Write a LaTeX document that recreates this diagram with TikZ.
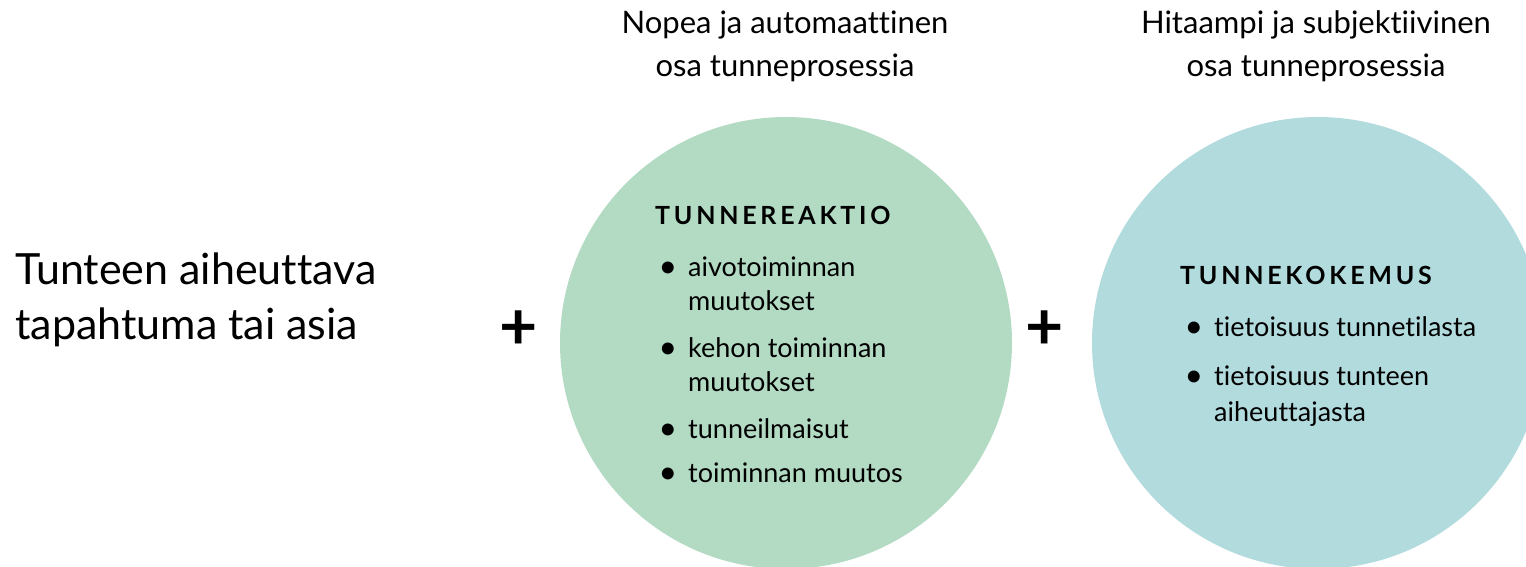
\documentclass[tikz,border=0pt]{standalone}
\usepackage{fontspec}
\setmainfont{Lato}[Ligatures=NoCommon]
\usetikzlibrary{positioning}
\definecolor{vihrea}{RGB}{179,219,196}
\definecolor{sininen}{RGB}{178,219,222}
\newcommand{\pallukka}{\llap{{\fontsize{32}{32}\selectfont\raisebox{-1.5pt}{\textbullet}}\hspace{11pt}}}

\begin{document}
\begin{tikzpicture}[x=1pt,y=-1pt,
    pallo/.style={circle,minimum size=452pt,inner sep=0pt},
    yla/.style={font=\fontsize{31}{43}\selectfont,align=center,inner sep=0pt},
    vasen/.style={font=\fontsize{43}{55}\selectfont,align=left,anchor=west,inner sep=0pt},
    plus/.style={font=\fontsize{66}{66}\selectfont\bfseries,inner sep=0pt},
    otsikko/.style={font=\fontsize{25}{28}\selectfont\bfseries\addfontfeature{LetterSpace=15},anchor=base west,inner sep=0pt},
    kohta/.style={font=\fontsize{27}{34}\selectfont,align=left,anchor=base west,inner sep=0pt}]
                \useasboundingbox (0,0) rectangle (1526,567);
                \clip (0,0) rectangle (1526,567);
                \node[pallo,fill=vihrea] (R) at (786,343) {};
                \node[pallo,fill=sininen] (K) at (1318,343) {};
                \node[yla] (N) at (785,46) {Nopea ja automaattinen\\osa tunneprosessia};
                \node[yla] (H) at (1316,46) {Hitaampi ja subjektiivinen\\osa tunneprosessia};
                \node[vasen] (L) at (15,300) {Tunteen aiheuttava\\tapahtuma tai asia};
                \node[plus] (P1) at (519,330) {+};
                \node[plus] (P2) at (1045,330) {+};
                % tunnereaktio
                \node[otsikko] (RO) at (655,224) {TUNNEREAKTIO};
                \node[kohta] (R1) at (688,276) {\pallukka aivotoiminnan};
                \node[kohta] (R1b) at (688,310) {muutokset};
                \node[kohta] (R2) at (688,357) {\pallukka kehon toiminnan};
                \node[kohta] (R2b) at (688,391) {muutokset};
                \node[kohta] (R3) at (688,438) {\pallukka tunneilmaisut};
                \node[kohta] (R4) at (688,482) {\pallukka toiminnan muutos};
                % tunnekokemus
                \node[otsikko] (KO) at (1180,284) {TUNNEKOKEMUS};
                \node[kohta] (K1) at (1214,336) {\pallukka tietoisuus tunnetilasta};
                \node[kohta] (K2) at (1214,385) {\pallukka tietoisuus tunteen};
                \node[kohta] (K2b) at (1214,421) {aiheuttajasta};
            \end{tikzpicture}
\end{document}
